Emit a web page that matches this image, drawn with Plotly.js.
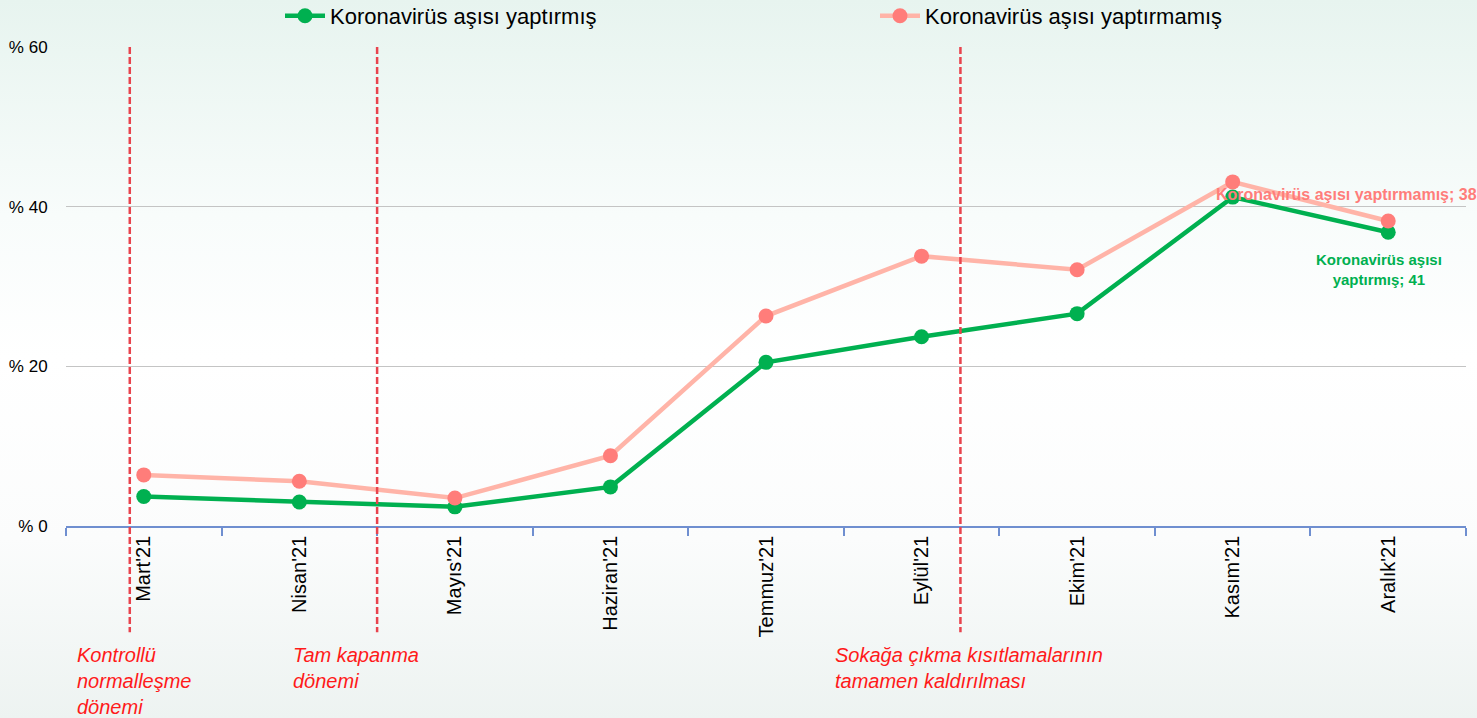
<!DOCTYPE html>
<html>
<head>
<meta charset="utf-8">
<script src="https://cdn.plot.ly/plotly-3.0.1.min.js"></script>
<style>
html,body{margin:0;padding:0;}
body{width:1477px;height:718px;background:linear-gradient(to bottom,#e7f4ef 0%,#f8fcfb 30%,#ffffff 50%,#fbfcfc 75%,#edf3f1 100%);}
#chart{width:1477px;height:718px;}
</style>
</head>
<body>
<div id="chart"></div>
<script>
const categories = ["Mart'21","Nisan'21","Mayıs'21","Haziran'21","Temmuz'21","Eylül'21","Ekim'21","Kasım'21","Aralık'21"];
const vaccinated = [3.7, 3.0, 2.4, 4.9, 20.5, 23.7, 26.6, 41.2, 36.8];
const unvaccinated = [6.4, 5.6, 3.5, 8.8, 26.3, 33.8, 32.1, 43.1, 38.2];
const seriesNames = ["Koronavirüs aşısı yaptırmış", "Koronavirüs aşısı yaptırmamış"];
const yTicks = [0, 20, 40, 60];
const yTickLabels = ["% 0", "% 20", "% 40", "% 60"];
const eventPositions = [-0.09, 1.5, 5.25];
const eventLabels = ["Kontrollü<br>normalleşme<br>dönemi", "Tam kapanma<br>dönemi", "Sokağa çıkma kısıtlamalarının<br>tamamen kaldırılması"];
const dataLabels = ["Koronavirüs aşısı yaptırmamış; 38", "Koronavirüs aşısı<br>yaptırmış; 41"];

const traces = [
  {x: categories, y: vaccinated, name: seriesNames[0], type: 'scatter', mode: 'lines+markers',
   line: {color: '#00b050', width: 4.5}, marker: {color: '#00b050', size: 15}},
  {x: categories, y: unvaccinated, name: seriesNames[1], type: 'scatter', mode: 'lines+markers',
   line: {color: '#ffb4a8', width: 4.5}, marker: {color: '#ff7d7a', size: 15}}
];

const shapes = eventPositions.map(p => ({
  type: 'line', xref: 'x', yref: 'paper', x0: p, x1: p, y0: 1, y1: -0.222,
  line: {color: '#e8434d', width: 2.5, dash: '7px,3px'}
}));

const eventX = [75, 291, 833];
const annotations = eventLabels.map((t, i) => ({
  xref: 'paper', yref: 'paper', x: (eventX[i] - 66) / 1400, y: (526 - 642) / 479,
  xanchor: 'left', yanchor: 'top', align: 'left', showarrow: false, text: t,
  font: {family: 'Liberation Sans Narrow, Arial Narrow, sans-serif', size: 20, color: '#ff1a1a', style: 'italic'}
}));
annotations.push({
  xref: 'x', yref: 'y', x: 8, y: unvaccinated[8], xshift: -42, yshift: 27, showarrow: false,
  text: dataLabels[0], font: {family: 'Liberation Sans, Arial, sans-serif', size: 16, color: '#ff7d7a', weight: 'bold'}
});
annotations.push({
  xref: 'x', yref: 'y', x: 8, y: vaccinated[8], xshift: -9, yshift: -37, showarrow: false,
  text: dataLabels[1], font: {family: 'Liberation Sans, Arial, sans-serif', size: 15, color: '#00b050', weight: 'bold'}
});

const layout = {
  width: 1477, height: 718,
  margin: {l: 66, r: 11, t: 47, b: 192, autoexpand: false},
  paper_bgcolor: 'rgba(0,0,0,0)', plot_bgcolor: 'rgba(0,0,0,0)',
  showlegend: true,
  legend: {orientation: 'h', x: (280 - 66) / 1400, xanchor: 'left', y: 1 + (47 - 16) / 479, yanchor: 'middle',
    entrywidth: 540, entrywidthmode: 'pixels', itemwidth: 40,
    font: {family: 'Liberation Sans Narrow, Arial Narrow, sans-serif', size: 22, color: '#000'},
    bgcolor: 'rgba(0,0,0,0)'},
  xaxis: {type: 'category', range: [-0.5, 8.5], tickangle: -90, tickson: 'boundaries',
    ticks: 'outside', ticklen: 8, tickcolor: '#6f8fd0', tickwidth: 1.5,
    showline: true, linecolor: '#6f8fd0', linewidth: 1.5, showgrid: false,
    tickfont: {family: 'Liberation Sans, Arial, sans-serif', size: 20, color: '#000'}},
  yaxis: {range: [0, 60], tickmode: 'array', tickvals: yTicks, ticktext: yTickLabels, showgrid: true, gridcolor: '#c4c4c4', gridwidth: 1,
    zeroline: false, showline: false, ticks: 'outside', ticklen: 14, tickcolor: 'rgba(0,0,0,0)',
    tickfont: {family: 'Liberation Sans, Arial, sans-serif', size: 17, color: '#000'}},
  shapes: shapes,
  annotations: annotations
};

Plotly.newPlot('chart', traces, layout, {displayModeBar: false, responsive: false});
</script>
</body>
</html>
